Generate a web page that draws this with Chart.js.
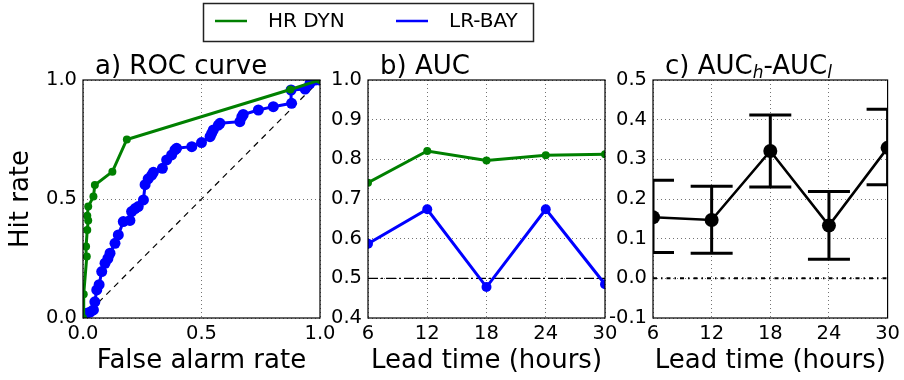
<!DOCTYPE html>
<html>
<head>
<meta charset="utf-8">
<script src="https://cdn.jsdelivr.net/npm/chart.js@4.4.1/dist/chart.umd.min.js"></script>
<style>
  html, body { margin:0; padding:0; background:#fff; }
  #wrap { position:relative; width:904px; height:380px; }
  #wrap canvas { position:absolute; left:0; top:0; }
</style>
</head>
<body>
<div id="wrap">
  <canvas id="chart-roc"  width="904" height="380"></canvas>
  <canvas id="chart-auc"  width="904" height="380"></canvas>
  <canvas id="chart-diff" width="904" height="380"></canvas>
</div>
<script>
// ── Data ──────────────────────────────────────────────────────
const seriesNames = ['HR DYN', 'LR-BAY'];

// a) ROC curve
const rocHrFpr = [0, 0.003, 0.016, 0.013, 0.018, 0.022, 0.018, 0.022, 0.044, 0.05, 0.124, 0.185, 0.875, 1];
const rocHrHit = [0, 0.10, 0.258, 0.30, 0.37, 0.41, 0.43, 0.468, 0.51, 0.559, 0.615, 0.75, 0.96, 1];
const rocLrFpr = [0, 0.016, 0.03, 0.044, 0.05, 0.058, 0.068, 0.079, 0.093, 0.105, 0.114, 0.135, 0.149, 0.17,
                  0.198, 0.205, 0.22, 0.233, 0.255, 0.262, 0.275, 0.29, 0.297, 0.335, 0.353, 0.374, 0.388, 0.395,
                  0.459, 0.50, 0.536, 0.543, 0.55, 0.571, 0.578, 0.662, 0.67, 0.676, 0.74, 0.803, 0.88, 0.878,
                  0.937, 0.958, 0.979, 1];
const rocLrHit = [0, 0.02, 0.025, 0.034, 0.068, 0.118, 0.14, 0.195, 0.23, 0.25, 0.272, 0.314, 0.349, 0.405,
                  0.41, 0.447, 0.46, 0.468, 0.496, 0.56, 0.585, 0.60, 0.612, 0.629, 0.664, 0.685, 0.706, 0.713,
                  0.72, 0.737, 0.762, 0.776, 0.79, 0.81, 0.818, 0.825, 0.845, 0.855, 0.874, 0.888, 0.902, 0.958,
                  0.962, 0.986, 1.0, 1];
const chanceFpr = [0, 1];
const chanceHit = [0, 1];

// b) AUC by lead time
const leadTimes = [6, 12, 18, 24, 30];
const aucHr     = [0.741, 0.821, 0.797, 0.810, 0.813];
const aucLr     = [0.587, 0.674, 0.478, 0.674, 0.485];
const aucChance = [0.5, 0.5, 0.5, 0.5, 0.5];

// c) AUC_h - AUC_l with error bars
const aucDiff   = [0.154, 0.147, 0.321, 0.133, 0.329];
const aucDiffLo = [0.065, 0.063, 0.230, 0.048, 0.236];
const aucDiffHi = [0.247, 0.232, 0.412, 0.219, 0.426];
const zeroLine  = [0, 0, 0, 0, 0];

// ── Styles ────────────────────────────────────────────────────
const C = { hr:'#008000', lr:'#0000ff', k:'#000000', grid:'rgba(0,0,0,0.55)' };
const FONT = 'DejaVu Sans';
const TICK = { family:FONT, size:19.5 };
const LABEL = { family:FONT, size:26 };

const pts = (xs, ys) => xs.map((x, i) => ({ x, y: ys[i] }));
const fmt1 = v => Math.abs(v) < 1e-9 ? '0.0' : v.toFixed(1);

function scales(o) {
  return {
    x: {
      type:'linear', min:o.xMin, max:o.xMax,
      afterFit: s => { s.height = 62; },
      ticks:{ stepSize:o.xStep, autoSkip:false, maxRotation:0, color:C.k, font:TICK, padding:4, callback:o.xFmt },
      grid:{ color:C.grid, lineWidth:1, drawTicks:false },
      border:{ display:false, dash:[1,3] },
      title:{ display:true, text:o.xTitle, color:C.k, font:LABEL, padding:{ top:0, bottom:3 } },
    },
    y: {
      type:'linear', min:o.yMin, max:o.yMax,
      afterFit: s => { s.width = o.yW; },
      ticks:{ stepSize:o.yStep, autoSkip:false, color:C.k, font:TICK, padding:6, callback:fmt1 },
      grid:{ color:C.grid, lineWidth:1, drawTicks:false },
      border:{ display:false, dash:[1,3] },
      title:{ display:!!o.yTitle, text:o.yTitle || '', color:C.k, font:LABEL, padding:{ top:6, bottom:0 } },
    },
  };
}

// frame + panel title, drawn on each chart
const panelPlugin = {
  id:'panel',
  afterDraw(chart, args, opts) {
    const { ctx, chartArea:a } = chart;
    ctx.save();
    ctx.strokeStyle = C.k; ctx.lineWidth = 1.2;
    ctx.strokeRect(a.left, a.top, a.right - a.left, a.bottom - a.top);
    let x = a.left + 12;
    const y = a.top - 6;
    ctx.fillStyle = C.k; ctx.textBaseline = 'alphabetic'; ctx.textAlign = 'left';
    for (const seg of opts.title) {
      ctx.font = `${seg.italic ? 'italic ' : ''}${seg.size || 26}px "${FONT}"`;
      ctx.fillText(seg.t, x, y + (seg.dy || 0));
      x += ctx.measureText(seg.t).width;
    }
    ctx.restore();
  }
};

// shared legend (drawn once, on the first chart)
const legendPlugin = {
  id:'figLegend',
  afterDraw(chart) {
    const { ctx } = chart;
    ctx.save();
    ctx.fillStyle = '#fff'; ctx.strokeStyle = '#222'; ctx.lineWidth = 1.5;
    ctx.fillRect(203.5, 3.5, 330, 38);
    ctx.strokeRect(203.5, 3.5, 330, 38);
    const cols = [C.hr, C.lr];
    const xs = [215, 396];
    ctx.font = `20px "${FONT}"`; ctx.textBaseline = 'middle';
    seriesNames.forEach((n, i) => {
      ctx.strokeStyle = cols[i]; ctx.lineWidth = 2.5;
      ctx.beginPath(); ctx.moveTo(xs[i], 21); ctx.lineTo(xs[i] + 32, 21); ctx.stroke();
      ctx.fillStyle = '#000';
      ctx.fillText(n, xs[i] + 53, 22);
    });
    ctx.restore();
  }
};

// error bars for panel c, positioned through the chart's scales
const errorBarPlugin = {
  id:'errbars',
  afterDatasetsDraw(chart) {
    const { ctx, chartArea:a, scales:{ x, y } } = chart;
    ctx.save();
    ctx.beginPath(); ctx.rect(a.left, a.top, a.right - a.left, a.bottom - a.top); ctx.clip();
    ctx.strokeStyle = C.k; ctx.lineWidth = 3;
    leadTimes.forEach((t, i) => {
      const px = x.getPixelForValue(t);
      const lo = y.getPixelForValue(aucDiffLo[i]);
      const hi = y.getPixelForValue(aucDiffHi[i]);
      ctx.beginPath();
      ctx.moveTo(px, lo); ctx.lineTo(px, hi);
      ctx.moveTo(px - 21, lo); ctx.lineTo(px + 21, lo);
      ctx.moveTo(px - 21, hi); ctx.lineTo(px + 21, hi);
      ctx.stroke();
    });
    ctx.restore();
  }
};

const base = { responsive:false, animation:false, events:[],
  plugins:{ legend:{ display:false }, tooltip:{ enabled:false } } };

// ── a) ROC curve ──────────────────────────────────────────────
new Chart(document.getElementById('chart-roc'), {
  type:'line',
  data:{ datasets:[
    { label:seriesNames[0], data:pts(rocHrFpr, rocHrHit), borderColor:C.hr, backgroundColor:C.hr,
      borderWidth:3, pointRadius:4, pointBorderWidth:0, clip:0, tension:0 },
    { label:seriesNames[1], data:pts(rocLrFpr, rocLrHit), borderColor:C.lr, backgroundColor:C.lr,
      borderWidth:3, pointRadius:5.5, pointBorderWidth:0, clip:0, tension:0 },
    { label:'chance', data:pts(chanceFpr, chanceHit), borderColor:C.k, borderWidth:1.2,
      borderDash:[6,5], pointRadius:0, clip:0 },
  ]},
  options:{ ...base,
    layout:{ padding:{ left:0, right:584, top:80, bottom:0 } },
    scales:scales({ xMin:0, xMax:1, xStep:0.5, yMin:0, yMax:1, yStep:0.5, yW:83,
      xTitle:'False alarm rate', yTitle:'Hit rate', xFmt:fmt1 }),
    plugins:{ ...base.plugins, panel:{ title:[{ t:'a) ROC curve' }] } },
  },
  plugins:[panelPlugin, legendPlugin],
});

// ── b) AUC ────────────────────────────────────────────────────
new Chart(document.getElementById('chart-auc'), {
  type:'line',
  data:{ datasets:[
    { label:seriesNames[0], data:pts(leadTimes, aucHr), borderColor:C.hr, backgroundColor:C.hr,
      borderWidth:3, pointRadius:4, pointBorderWidth:0, clip:0 },
    { label:seriesNames[1], data:pts(leadTimes, aucLr), borderColor:C.lr, backgroundColor:C.lr,
      borderWidth:3, pointRadius:5, pointBorderWidth:0, clip:0 },
    { label:'chance', data:pts(leadTimes, aucChance), borderColor:C.k, borderWidth:1.3,
      borderDash:[10,3,2,3], pointRadius:0, clip:0 },
  ]},
  options:{ ...base,
    layout:{ padding:{ left:318, right:299, top:80, bottom:0 } },
    scales:scales({ xMin:6, xMax:30, xStep:6, yMin:0.4, yMax:1.0, yStep:0.1, yW:50,
      xTitle:'Lead time (hours)', xFmt:v => String(Math.round(v)) }),
    plugins:{ ...base.plugins, panel:{ title:[{ t:'b) AUC' }] } },
  },
  plugins:[panelPlugin],
});

// ── c) AUC_h - AUC_l ──────────────────────────────────────────
new Chart(document.getElementById('chart-diff'), {
  type:'line',
  data:{ datasets:[
    { label:'diff', data:pts(leadTimes, aucDiff), borderColor:C.k, backgroundColor:C.k,
      borderWidth:2.6, pointRadius:7, pointBorderWidth:0, clip:0 },
    { label:'zero', data:pts(leadTimes, zeroLine), borderColor:C.k, borderWidth:2,
      borderDash:[4,4,1.5,4], pointRadius:0, clip:0 },
  ]},
  options:{ ...base,
    layout:{ padding:{ left:598, right:15, top:80, bottom:0 } },
    scales:scales({ xMin:6, xMax:30, xStep:6, yMin:-0.1, yMax:0.5, yStep:0.1, yW:55,
      xTitle:'Lead time (hours)', xFmt:v => String(Math.round(v)) }),
    plugins:{ ...base.plugins, panel:{ title:[
      { t:'c) AUC' }, { t:'h', italic:true, size:17, dy:4 }, { t:'-AUC' }, { t:'l', italic:true, size:17, dy:4 },
    ] } },
  },
  plugins:[panelPlugin, errorBarPlugin],
});
</script>
</body>
</html>
